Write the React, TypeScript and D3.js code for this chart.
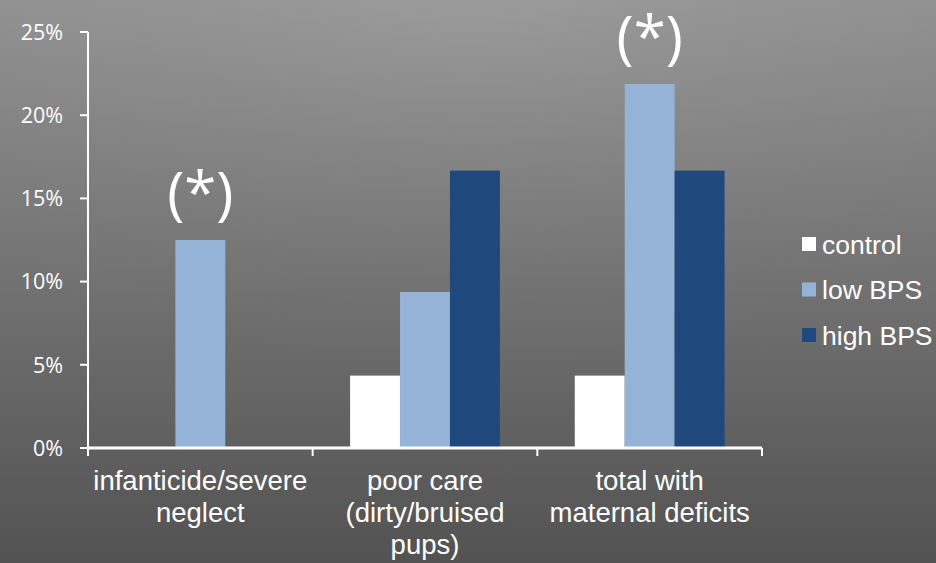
import React from "react";
import * as d3 from "d3";

const categories = [
  ["infanticide/severe", "neglect"],
  ["poor care", "(dirty/bruised", "pups)"],
  ["total with", "maternal deficits"],
];
const seriesNames = ["control", "low BPS", "high BPS"];
const seriesColors = ["#ffffff", "#95b3d7", "#1f497d"];
const control = [0, 4.35, 4.35];
const lowBPS = [12.5, 9.375, 21.875];
const highBPS = [0, 16.67, 16.67];
const yTicks = [0, 5, 10, 15, 20, 25];
const annotations = [
  { cat: 0, series: 1, text: "(*)" },
  { cat: 2, series: 1, text: "(*)" },
];

const W = 936;
const H = 563;
const left = 88;
const right = 762;
const top = 32;
const bottom = 448;

export default function App() {
  const series = [control, lowBPS, highBPS];
  const y = d3.scaleLinear().domain([0, 25]).range([bottom, top]);
  const x0 = d3
    .scaleBand<number>()
    .domain(categories.map((_, i) => i))
    .range([left, right])
    .paddingInner(0)
    .paddingOuter(0);
  const bw = x0.bandwidth();
  const barW = bw / 4.5;
  const x1 = d3
    .scaleBand<number>()
    .domain([0, 1, 2])
    .range([0.75 * barW, 3.75 * barW])
    .padding(0);

  return (
    <svg
      width={W}
      height={H}
      style={{ position: "absolute", left: 0, top: 0, display: "block" }}
    >
      <defs>
        <linearGradient id="bg" x1="0" y1="0" x2="0" y2="1">
          <stop offset="0" stopColor="#959595" />
          <stop offset="1" stopColor="#555555" />
        </linearGradient>
        <radialGradient id="hl" cx="0.5" cy="0" r="0.7">
          <stop offset="0" stopColor="#ffffff" stopOpacity="0.06" />
          <stop offset="1" stopColor="#000000" stopOpacity="0.03" />
        </radialGradient>
      </defs>
      <rect x={0} y={0} width={W} height={H} fill="url(#bg)" />
      <rect x={0} y={0} width={W} height={H} fill="url(#hl)" />

      {/* bars */}
      {series.map((vals, s) =>
        vals.map((v, c) =>
          v > 0 ? (
            <rect
              key={`${s}-${c}`}
              x={(x0(c) as number) + (x1(s) as number)}
              y={y(v)}
              width={x1.bandwidth()}
              height={bottom - y(v)}
              fill={seriesColors[s]}
            />
          ) : null
        )
      )}

      {/* y axis */}
      <line x1={left} x2={left} y1={top} y2={bottom} stroke="#fff" strokeWidth={2} />
      {yTicks.map((t) => (
        <g key={t}>
          <line x1={left - 8} x2={left} y1={y(t)} y2={y(t)} stroke="#fff" strokeWidth={2} />
          <text
            x={63}
            y={y(t)}
            dy="0.36em"
            textAnchor="end"
            fill="#fff"
            fontFamily="'Open Sans', sans-serif"
            fontSize={21.5}
          >
            {t}%
          </text>
        </g>
      ))}

      {/* x axis */}
      <line x1={left - 1} x2={right} y1={bottom} y2={bottom} stroke="#fff" strokeWidth={3} />
      {[0, 1, 2, 3].map((i) => (
        <line
          key={i}
          x1={left + i * bw}
          x2={left + i * bw}
          y1={bottom}
          y2={bottom + 8}
          stroke="#fff"
          strokeWidth={2}
        />
      ))}
      {categories.map((lines, c) => (
        <text
          key={c}
          x={(x0(c) as number) + bw / 2}
          y={490}
          textAnchor="middle"
          fill="#fff"
          fontFamily="'Liberation Sans', Arial, sans-serif"
          fontSize={27.5}
        >
          {lines.map((l, i) => (
            <tspan key={i} x={(x0(c) as number) + bw / 2} dy={i === 0 ? 0 : 32}>
              {l}
            </tspan>
          ))}
        </text>
      ))}

      {/* annotations */}
      {annotations.map((a, i) => {
        const cx = (x0(a.cat) as number) + (x1(a.series) as number) + x1.bandwidth() / 2;
        const v = series[a.series][a.cat];
        return (
          <text
            key={i}
            x={cx}
            y={y(v) - 26}
            textAnchor="middle"
            fill="#fff"
            fontFamily="'Open Sans', sans-serif"
            fontSize={58}
          >
            {a.text}
          </text>
        );
      })}

      {/* legend */}
      {seriesNames.map((n, i) => (
        <g key={n} transform={`translate(802, ${244 + i * 45.5})`}>
          <rect x={0} y={-7} width={14} height={14} fill={seriesColors[i]} />
          <text
            x={20}
            y={0}
            dy="0.36em"
            fill="#fff"
            fontFamily="'Liberation Sans', Arial, sans-serif"
            fontSize={26.5}
          >
            {n}
          </text>
        </g>
      ))}
    </svg>
  );
}
